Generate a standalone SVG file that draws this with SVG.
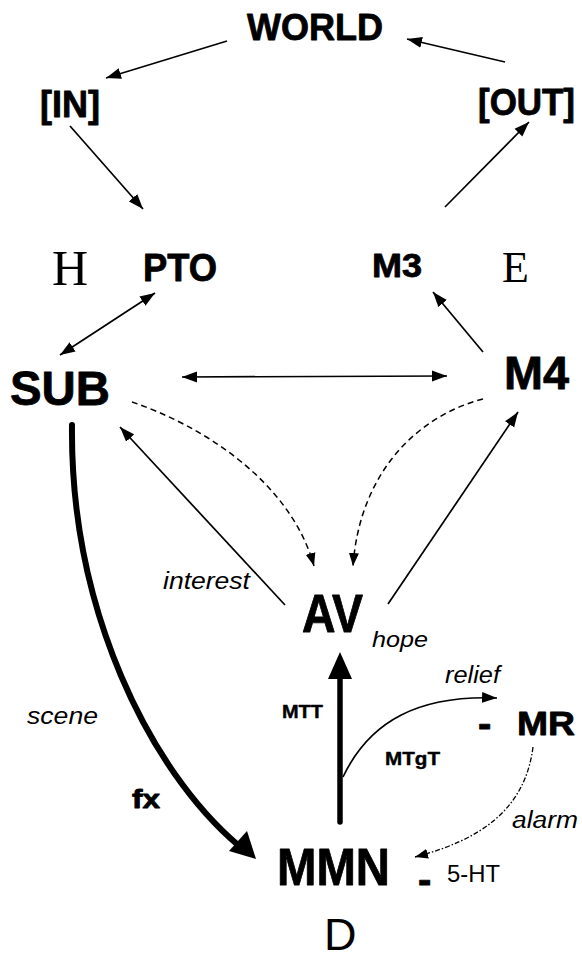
<svg xmlns="http://www.w3.org/2000/svg" width="582" height="960" viewBox="0 0 582 960">
<style>
text{font-family:"Liberation Sans",Arial,sans-serif;fill:#000}
.b{font-weight:bold;stroke:#000;stroke-width:0.8;stroke-linejoin:round}
.sm{stroke-width:0.4}
.i{font-style:italic}
.s{font-family:"Liberation Serif","Times New Roman",serif}
.ln{fill:none;stroke:#000;stroke-width:1.7}
.dash{fill:none;stroke:#000;stroke-width:1.5;stroke-dasharray:6 4}
.dd{fill:none;stroke:#000;stroke-width:1.3;stroke-dasharray:5 2 1.5 2}
.thick{fill:none;stroke:#000;stroke-width:6;stroke-linecap:round}
</style>
<defs>
<marker id="ah" markerUnits="userSpaceOnUse" markerWidth="16" markerHeight="12" refX="15" refY="5.5" orient="auto-start-reverse" viewBox="0 0 16 11">
<path d="M0,0 L15,5.5 L0,11 z" fill="#000"/>
</marker>
<marker id="ahs" markerUnits="userSpaceOnUse" markerWidth="14" markerHeight="11" refX="13" refY="5" orient="auto" viewBox="0 0 14 10">
<path d="M0,0 L13,5 L0,10 z" fill="#000"/>
</marker>
</defs>

<g id="connectors">
<line class="ln" x1="227" y1="41" x2="106" y2="78" marker-end="url(#ah)"/>
<line class="ln" x1="70" y1="126" x2="143" y2="209" marker-end="url(#ah)"/>
<line class="ln" x1="505" y1="62" x2="407" y2="39" marker-end="url(#ah)"/>
<line class="ln" x1="445" y1="207" x2="529" y2="122" marker-end="url(#ah)"/>
<line class="ln" x1="155" y1="293" x2="60" y2="355" marker-start="url(#ah)" marker-end="url(#ah)"/>
<line class="ln" x1="483" y1="352" x2="433" y2="292" marker-end="url(#ah)"/>
<line class="ln" x1="182" y1="377" x2="447" y2="376" marker-start="url(#ah)" marker-end="url(#ah)"/>
<path class="dash" d="M132,402 C200,425 290,480 314,566" marker-end="url(#ahs)"/>
<path class="dash" d="M483,399 C420,415 360,470 353,566" marker-end="url(#ahs)"/>
<line class="ln" x1="285" y1="605" x2="120" y2="427" marker-end="url(#ah)"/>
<line class="ln" x1="388" y1="604" x2="518" y2="412" marker-end="url(#ah)"/>
<path class="thick" d="M72,425 C70,610 150,770 238,845"/>
<polygon points="256,859 229,851 247,831" fill="#000"/>
<line class="thick" x1="340" y1="822" x2="340" y2="676" style="stroke-width:5.5"/>
<polygon points="340,652 352,679 328,679" fill="#000"/>
<path class="ln" d="M343,777 C370,720 420,695 497,698" marker-end="url(#ah)"/>
<path class="dd" d="M533,747 C525,810 480,840 415,857" marker-end="url(#ahs)"/>
</g>

<g id="world"><text class="b" x="247" y="40" font-size="37" textLength="136" lengthAdjust="spacingAndGlyphs">WORLD</text></g>
<g id="in"><text class="b" x="40" y="117" font-size="36" textLength="60" lengthAdjust="spacingAndGlyphs">[IN]</text></g>
<g id="out"><text class="b" x="478" y="115" font-size="36" textLength="97" lengthAdjust="spacingAndGlyphs">[OUT]</text></g>
<g id="h"><text class="s" x="52" y="285" font-size="50">H</text></g>
<g id="pto"><text class="b" x="143" y="281" font-size="38" textLength="74" lengthAdjust="spacingAndGlyphs">PTO</text></g>
<g id="m3"><text class="b" x="372" y="277" font-size="34" textLength="50" lengthAdjust="spacingAndGlyphs">M3</text></g>
<g id="e"><text class="s" x="502" y="282" font-size="44">E</text></g>
<g id="sub"><text class="b" x="10" y="405" font-size="48" textLength="100" lengthAdjust="spacingAndGlyphs">SUB</text></g>
<g id="m4"><text class="b" x="504" y="389" font-size="47" textLength="65" lengthAdjust="spacingAndGlyphs">M4</text></g>
<g id="av"><text class="b" x="302" y="632" font-size="54" textLength="61" lengthAdjust="spacingAndGlyphs">AV</text>
<text class="i" x="372" y="647" font-size="22" textLength="56" lengthAdjust="spacingAndGlyphs">hope</text></g>
<g id="mr"><text class="b" x="478" y="737" font-size="40">-</text>
<text class="b" x="517" y="735" font-size="33" textLength="58" lengthAdjust="spacingAndGlyphs">MR</text></g>
<g id="mmn"><text class="b" x="277" y="885" font-size="52" textLength="113" lengthAdjust="spacingAndGlyphs">MMN</text>
<text class="b" x="418" y="893" font-size="40">-</text>
<text x="447" y="882" font-size="24" textLength="53" lengthAdjust="spacingAndGlyphs">5-HT</text></g>
<g id="d"><text x="324" y="950" font-size="45">D</text></g>

<g id="labels">
<text class="i" x="163" y="589" font-size="23" textLength="87" lengthAdjust="spacingAndGlyphs">interest</text>
<text class="i" x="27" y="724" font-size="24" textLength="71" lengthAdjust="spacingAndGlyphs">scene</text>
<text class="b" x="132" y="808" font-size="25" textLength="28" lengthAdjust="spacingAndGlyphs">fx</text>
<text class="b sm" x="282" y="718" font-size="18" textLength="41" lengthAdjust="spacingAndGlyphs">MTT</text>
<text class="i" x="445" y="683" font-size="24" textLength="55" lengthAdjust="spacingAndGlyphs">relief</text>
<text class="b sm" x="385" y="765" font-size="19" textLength="55" lengthAdjust="spacingAndGlyphs">MTgT</text>
<text class="i" x="512" y="828" font-size="23" textLength="66" lengthAdjust="spacingAndGlyphs">alarm</text>
</g>
</svg>
